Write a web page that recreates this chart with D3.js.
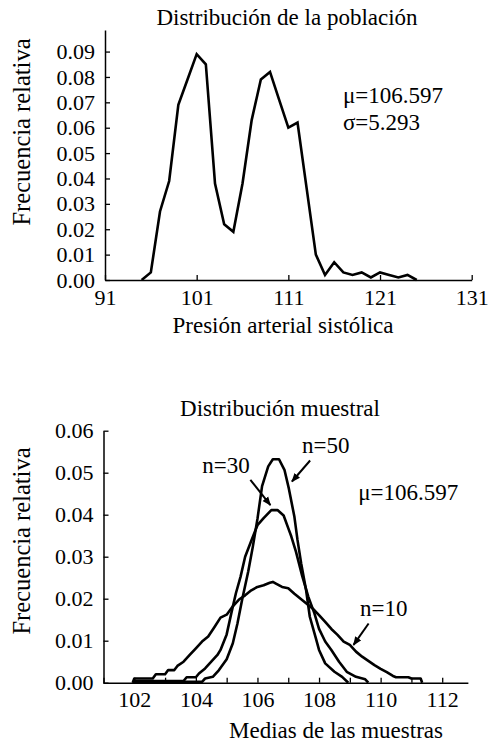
<!DOCTYPE html>
<html><head><meta charset="utf-8">
<script src="https://cdn.jsdelivr.net/npm/d3@7"></script>
<style>
html,body{margin:0;padding:0;background:#fff;}
svg text{font-family:"Liberation Serif","Times New Roman",Times,serif !important;fill:#000;}
</style></head>
<body><svg id="c" width="489" height="744"></svg>
<script>
// ---------- data: population distribution ----------
const popX = [95,96,97,98,99,100,101,102,103,104,105,106,107,108,109,110,111,112,113,114,115,116,117,118,119,120,121,122,123,124,125];
const popY = [0,0.003,0.027,0.039,0.069,0.079,0.089,0.085,0.038,0.022,0.019,0.038,0.063,0.079,0.082,0.071,0.060,0.062,0.036,0.010,0.002,0.007,0.003,0.002,0.003,0.001,0.003,0.002,0.001,0.002,0];
const popXTicks = [91,101,111,121,131];
const popYTicks = [0,0.01,0.02,0.03,0.04,0.05,0.06,0.07,0.08,0.09];

// ---------- data: sampling distributions ----------
const n10X = [101.95,102.0,102.6,102.7,103.0,103.1,103.3,103.4,103.6,103.8,104.0,104.2,104.4,104.6,104.8,105.0,105.2,105.4,105.6,105.8,106.0,106.2,106.4,106.5,106.6,106.8,107.0,107.2,107.4,107.6,107.8,108.0,108.2,108.4,108.6,108.8,109.0,109.2,109.4,109.6,109.8,110.0,110.2,110.4,110.5,110.9,111.0,111.3,111.35];
const n10Y = [0,0.001,0.001,0.002,0.002,0.003,0.003,0.004,0.005,0.0066,0.0082,0.0098,0.011,0.0132,0.0155,0.0162,0.0182,0.0198,0.0208,0.022,0.0228,0.0232,0.0238,0.024,0.0236,0.0228,0.0225,0.0212,0.0200,0.0188,0.0176,0.0161,0.0145,0.0128,0.0114,0.0098,0.009,0.0074,0.0062,0.0052,0.0042,0.0033,0.0025,0.0016,0.0013,0.0013,0.001,0.001,0];
const n30X = [101.95,102.0,103.6,103.7,104.0,104.1,104.3,104.5,104.7,104.8,105.0,105.15,105.3,105.45,105.6,105.8,106.0,106.2,106.45,106.65,106.85,107.0,107.1,107.25,107.45,107.65,107.85,108.0,108.2,108.4,108.65,108.9,109.2,109.5,109.6];
const n30Y = [0,0.0004,0.0004,0.0013,0.0013,0.0022,0.0034,0.005,0.0066,0.0078,0.0115,0.0165,0.0213,0.0252,0.030,0.0338,0.0375,0.0392,0.0411,0.0411,0.0398,0.0368,0.0348,0.0312,0.0255,0.0205,0.0165,0.0128,0.0098,0.0078,0.005,0.0026,0.0014,0.0008,0];
const n50X = [101.95,102.0,104.2,104.3,104.55,104.75,105.0,105.2,105.35,105.5,105.7,105.85,106.0,106.15,106.35,106.5,106.7,106.88,107.02,107.2,107.3,107.42,107.58,107.7,107.9,108.0,108.2,108.5,108.75,108.95];
const n50Y = [0,0.0002,0.0002,0.001,0.0014,0.003,0.0056,0.0094,0.0141,0.0197,0.0265,0.0324,0.039,0.0468,0.0515,0.0532,0.0532,0.0506,0.0462,0.0395,0.034,0.0284,0.022,0.0157,0.0105,0.0078,0.0046,0.0026,0.0014,0];
const sampXTicks = [101,102,103,104,105,106,107,108,109,110,111,112];
const sampXLabels = [102,104,106,108,110,112];
const sampYTicks = [0,0.01,0.02,0.03,0.04,0.05,0.06];
// annotation labels: [text, x, y] and arrows: [x1,y1,x2,y2] in data units
const sampLabels = [["n=50",107.45,0.0547],["n=30",104.21,0.0499],["n=10",109.33,0.0159],["\u03bc=106.597",109.27,0.0435]];
const sampArrows = [[107.71,0.0529,107.12,0.0479],[105.77,0.0483,106.42,0.0423],[109.61,0.0141,109.12,0.0090]];
const popLabels = [["\u03bc=106.597",116.95,0.0698],["\u03c3=5.293",116.95,0.0591]];

const FONT = '"Liberation Serif","Times New Roman",Times,serif';
const svg = d3.select("#c");
const tickFont = 22, textFont = 23, ylabFont = 24.5;

svg.append("defs").append("marker")
  .attr("id","ah").attr("viewBox","0 0 10 10").attr("refX",9).attr("refY",5)
  .attr("markerWidth",9).attr("markerHeight",9).attr("markerUnits","userSpaceOnUse")
  .attr("orient","auto")
  .append("path").attr("d","M0,1L10,5L0,9Z").attr("fill","#000");

function styleAxis(g){
  g.attr("font-family",null).attr("font-size",null);
  g.selectAll("path.domain").attr("stroke","#000").attr("stroke-width",1.5);
  g.selectAll(".tick line").attr("stroke","#000").attr("stroke-width",1.3);
  g.selectAll(".tick text").style("font-family",FONT).style("font-size",tickFont+"px").attr("fill","#000");
}
function txt(x,y,s,size,anchor){
  return svg.append("text").attr("x",x).attr("y",y).attr("text-anchor",anchor||"start")
    .style("font-family",FONT).style("font-size",size+"px").text(s);
}

// ================= TOP CHART =================
const x1 = d3.scaleLinear().domain([91,131]).range([105,471.7]);
const y1 = d3.scaleLinear().domain([0,0.0985]).range([280,30]);

svg.append("g").attr("transform","translate(0,280)")
  .call(d3.axisBottom(x1).tickValues(popXTicks).tickFormat(d3.format("d")).tickSizeInner(-5).tickSizeOuter(0).tickPadding(9))
  .call(styleAxis);
svg.append("g").attr("transform","translate(105,0)")
  .call(d3.axisLeft(y1).tickValues(popYTicks).tickFormat(d3.format(".2f")).tickSizeInner(-5).tickSizeOuter(0).tickPadding(10))
  .call(styleAxis);

svg.append("path").datum(popX.map((d,i)=>[d,popY[i]]))
  .attr("fill","none").attr("stroke","#000").attr("stroke-width",2.6).attr("stroke-linejoin","miter")
  .attr("d", d3.line().x(d=>x1(d[0])).y(d=>y1(d[1])));

txt(287,25,"Distribución de la población",textFont,"middle");
txt(283,333,"Presión arterial sistólica",textFont,"middle");
txt(0,0,"Frecuencia relativa",ylabFont,"middle").attr("transform","translate(30,132) rotate(-90)");
popLabels.forEach(l=>txt(x1(l[1]),y1(l[2]),l[0],textFont));

// ================= BOTTOM CHART =================
const x2 = d3.scaleLinear().domain([101,113]).range([103.5,473]);
const y2 = d3.scaleLinear().domain([0,0.06]).range([682.7,430.7]);

svg.append("g").attr("transform","translate(0,682.7)")
  .call(d3.axisBottom(x2).tickValues(sampXTicks).tickFormat(d=>sampXLabels.includes(d)?d3.format("d")(d):"").tickSizeInner(-5).tickSizeOuter(0).tickPadding(9))
  .call(styleAxis)
  .call(g=>g.select("path.domain").attr("d",`M${x2(101)},0.5H${x2(112.85)}`));
svg.append("g").attr("transform",`translate(${x2(101)},0)`)
  .call(d3.axisLeft(y2).tickValues(sampYTicks).tickFormat(d3.format(".2f")).tickSizeInner(-5).tickSizeOuter(0).tickPadding(10))
  .call(styleAxis);

const line2 = d3.line().x(d=>x2(d[0])).y(d=>y2(d[1]));
[[n10X,n10Y],[n30X,n30Y],[n50X,n50Y]].forEach(s=>{
  svg.append("path").datum(s[0].map((d,i)=>[d,s[1][i]]))
    .attr("fill","none").attr("stroke","#000").attr("stroke-width",2.6).attr("stroke-linejoin","round")
    .attr("d", line2);
});

sampArrows.forEach(a=>{
  svg.append("line").attr("x1",x2(a[0])).attr("y1",y2(a[1])).attr("x2",x2(a[2])).attr("y2",y2(a[3]))
    .attr("stroke","#000").attr("stroke-width",2).attr("marker-end","url(#ah)");
});
sampLabels.forEach(l=>txt(x2(l[1]),y2(l[2]),l[0],textFont));

txt(280,416,"Distribución muestral",textFont,"middle");
txt(336,738,"Medias de las muestras",textFont,"middle");
txt(0,0,"Frecuencia relativa",ylabFont,"middle").attr("transform","translate(30,541) rotate(-90)");
</script></body></html>
